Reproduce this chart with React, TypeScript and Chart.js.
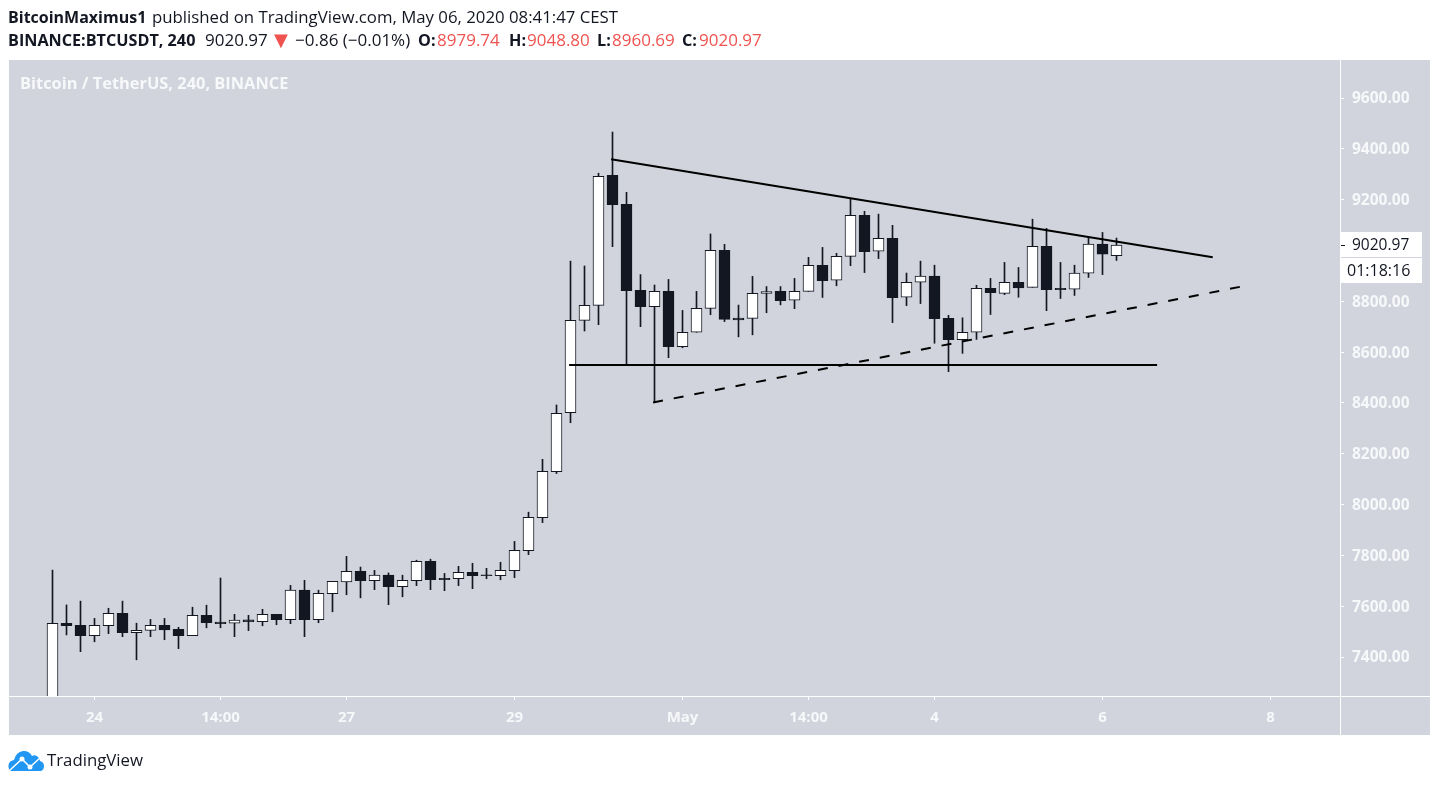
import React, { useEffect, useRef } from "react";
import { Chart, registerables } from "chart.js";

Chart.register(...registerables);

const opens = [7100, 7533, 7525, 7484, 7523, 7572, 7496, 7505, 7525, 7509, 7484, 7564, 7538, 7533, 7546, 7539, 7568, 7547, 7663, 7547, 7649, 7696, 7737, 7700, 7722, 7677, 7700, 7777, 7710, 7708, 7733, 7723, 7720, 7740, 7819, 7948, 8129, 8362, 8725, 8784, 9296, 9182, 8843, 8779, 8839, 8621, 8678, 8772, 9001, 8734, 8733, 8831, 8839, 8804, 8839, 8942, 8883, 8977, 9138, 8997, 9048, 8816, 8875, 8899, 8733, 8649, 8678, 8851, 8831, 8875, 8855, 9016, 8851, 8848, 8911, 9025, 8979.74];
const highs = [7742, 7605, 7620, 7552, 7592, 7620, 7533, 7548, 7552, 7517, 7596, 7604, 7711, 7568, 7564, 7588, 7568, 7682, 7702, 7663, 7698, 7796, 7754, 7741, 7731, 7722, 7781, 7785, 7729, 7757, 7769, 7749, 7773, 7855, 7970, 8178, 8392, 8958, 8939, 9304, 9466, 9229, 8905, 8864, 8886, 8764, 8839, 9065, 9024, 8785, 8898, 8858, 8858, 8890, 8973, 9012, 8989, 9203, 9154, 9143, 9099, 8911, 8958, 8942, 8745, 8735, 8863, 8890, 8953, 8933, 9123, 9087, 8953, 8942, 9052, 9071, 9048.8];
const lows = [7050, 7487, 7421, 7460, 7492, 7480, 7389, 7480, 7468, 7433, 7484, 7515, 7515, 7480, 7504, 7523, 7527, 7531, 7480, 7535, 7578, 7645, 7633, 7665, 7606, 7637, 7681, 7665, 7661, 7681, 7669, 7708, 7704, 7712, 7803, 7929, 8122, 8322, 8683, 8708, 9015, 8549, 8700, 8403, 8578, 8617, 8678, 8747, 8720, 8660, 8668, 8755, 8786, 8771, 8839, 8815, 8861, 8940, 8913, 8968, 8716, 8783, 8791, 8635, 8523, 8595, 8650, 8748, 8826, 8816, 8855, 8763, 8811, 8823, 8894, 8905, 8960.69];
const closes = [7533, 7523, 7484, 7525, 7572, 7496, 7505, 7525, 7507, 7484, 7564, 7535, 7531, 7545, 7539, 7568, 7547, 7663, 7547, 7651, 7698, 7737, 7700, 7722, 7677, 7702, 7777, 7704, 7704, 7733, 7720, 7720, 7741, 7820, 7950, 8131, 8359, 8725, 8784, 9292, 9180, 8842, 8779, 8839, 8621, 8678, 8772, 9001, 8729, 8727, 8831, 8838, 8802, 8839, 8942, 8881, 8977, 9138, 8995, 9048, 8814, 8875, 8899, 8732, 8649, 8678, 8851, 8834, 8875, 8853, 9016, 8846, 8846, 8911, 9025, 8985, 9020.97];

const priceTicks = [7400, 7600, 7800, 8000, 8200, 8400, 8600, 8800, 9000, 9200, 9400, 9600];
const timeTickIndex = [3, 12, 21, 33, 45, 54, 63, 75, 87];
const timeTickLabels = ["24", "14:00", "27", "29", "May", "14:00", "4", "6", "8"];

const upperTrendX = [39.9, 82.87];
const upperTrendY = [9359, 8973];
const supportX = [36.9, 78.9];
const supportY = [8549, 8549];
const risingTrendX = [42.9, 85.2];
const risingTrendY = [8402, 8861];

const lastPrice = 9020.97;
const countdown = "01:18:16";

const INK = "#131722";
const PANEL = "#d1d4dc";
const FONT = '"Open Sans", sans-serif';

const panelPlugin = {
  id: "panel",
  beforeDraw(chart: any) {
    const { ctx } = chart;
    ctx.save();
    ctx.fillStyle = PANEL;
    ctx.fillRect(9, 60, 1421, 675);
    ctx.restore();
  },
  afterDraw(chart: any) {
    const { ctx, chartArea, scales } = chart;
    ctx.save();
    ctx.fillStyle = "#ffffff";
    ctx.fillRect(chartArea.right, 60, 1, 675);
    ctx.fillRect(9, chartArea.bottom, 1421, 1);

    // last price + countdown tags on the axis
    const y = Math.round(scales.y.getPixelForValue(lastPrice));
    ctx.fillRect(chartArea.right + 1, y - 13, 81, 25);
    ctx.fillRect(chartArea.right + 1, y + 13, 81, 25);
    ctx.fillStyle = INK;
    ctx.fillRect(chartArea.right + 1, y, 4, 1);
    ctx.textBaseline = "middle";
    ctx.textAlign = "left";
    ctx.font = `15.5px ${FONT}`;
    ctx.fillText(lastPrice.toFixed(2), chartArea.right + 12, y + 1);
    ctx.font = `16px ${FONT}`;
    ctx.fillText(countdown, chartArea.right + 7, y + 26);
    ctx.restore();
  },
};

function Piece({ x, y, bold, color, size, family, children }: any) {
  return (
    <div
      style={{
        position: "absolute",
        left: x,
        top: y,
        fontFamily: family || FONT,
        fontSize: size || (bold ? 16.2 : 17),
        fontWeight: bold ? 700 : 400,
        color: color || INK,
        lineHeight: "20px",
        whiteSpace: "nowrap",
      }}
    >
      {children}
    </div>
  );
}

const RED = "#ef5350";

export default function App() {
  const chartRef = useRef<HTMLCanvasElement | null>(null);

  useEffect(() => {
    if (!chartRef.current) return;
    const indices = opens.map((_, i) => i);
    const colors = indices.map((i) => (closes[i] >= opens[i] ? "#ffffff" : INK));

    const chart = new Chart(chartRef.current, {
      type: "bar",
      plugins: [panelPlugin],
      data: {
        datasets: [
          {
            type: "line",
            data: upperTrendX.map((x, i) => ({ x, y: upperTrendY[i] })),
            borderColor: "#000000",
            borderWidth: 2,
            pointRadius: 0,
            order: 0,
          },
          {
            type: "line",
            data: supportX.map((x, i) => ({ x, y: supportY[i] })),
            borderColor: "#000000",
            borderWidth: 2,
            pointRadius: 0,
            order: 0,
          },
          {
            type: "line",
            data: risingTrendX.map((x, i) => ({ x, y: risingTrendY[i] })),
            borderColor: "#000000",
            borderWidth: 2,
            borderDash: [10, 11],
            pointRadius: 0,
            order: 0,
          },
          {
            type: "bar",
            data: indices.map((i) => ({ x: i, y: [opens[i], closes[i]] })),
            backgroundColor: colors,
            borderColor: INK,
            borderWidth: 1,
            borderSkipped: false,
            barThickness: 11,
            grouped: false,
            order: 1,
          },
          {
            type: "bar",
            data: indices.map((i) => ({ x: i, y: [lows[i], highs[i]] })),
            backgroundColor: INK,
            borderWidth: 0,
            barThickness: 1,
            grouped: false,
            order: 2,
          },
        ] as any,
      },
      options: {
        animation: false,
        responsive: false,
        devicePixelRatio: 1,
        layout: { padding: { left: 9, top: 60, right: 9, bottom: 50 } },
        plugins: {
          legend: { display: false },
          tooltip: { enabled: false },
        },
        scales: {
          x: {
            type: "linear",
            offset: false,
            min: -3.107,
            max: 91.964,
            afterBuildTicks: (axis: any) => {
              axis.ticks = timeTickIndex.map((value) => ({ value }));
            },
            afterFit: (axis: any) => {
              axis.height = 39;
            },
            grid: { offset: false, drawOnChartArea: false, color: "#ffffff", tickLength: 4 },
            border: { display: false },
            ticks: {
              autoSkip: false,
              maxRotation: 0,
              padding: 9,
              color: "#f7f8fa",
              font: { family: FONT, size: 15, weight: 700 },
              callback: (value: any) => timeTickLabels[timeTickIndex.indexOf(value)],
            },
          },
          y: {
            position: "right",
            min: 7246.6,
            max: 9749.6,
            afterBuildTicks: (axis: any) => {
              axis.ticks = priceTicks.map((value) => ({ value }));
            },
            afterFit: (axis: any) => {
              axis.width = 90;
            },
            grid: { drawOnChartArea: false, color: "#ffffff", tickLength: 4 },
            border: { display: false },
            ticks: {
              autoSkip: false,
              padding: 8,
              labelOffset: 1,
              color: "#f7f8fa",
              font: { family: FONT, size: 15.5, weight: 700 },
              callback: (value: any) => Number(value).toFixed(2),
            },
          },
        },
      } as any,
    });

    return () => {
      chart.destroy();
    };
  }, []);

  return (
    <div style={{ position: "fixed", left: 0, top: 0, width: 1439, height: 785, background: "#ffffff", overflow: "hidden" }}>
      <canvas ref={chartRef} width={1439} height={785} style={{ position: "absolute", left: 0, top: 0 }} />

      <Piece x={8} y={7} bold size={16}>BitcoinMaximus1</Piece>
      <Piece x={152} y={7} size={16.8}>published on TradingView.com, May 06, 2020 08:41:47 CEST</Piece>

      <Piece x={8} y={30} bold>BINANCE:BTCUSDT, 240</Piece>
      <Piece x={205} y={30}>{lastPrice.toFixed(2)}</Piece>
      <Piece x={274} y={30} color={RED} size={18} family='"DejaVu Sans", sans-serif'>▼</Piece>
      <Piece x={295} y={30}>−0.86 (−0.01%)</Piece>
      <Piece x={418} y={30} bold>O:</Piece>
      <Piece x={437} y={30} color={RED}>8979.74</Piece>
      <Piece x={509} y={30} bold>H:</Piece>
      <Piece x={527} y={30} color={RED}>9048.80</Piece>
      <Piece x={597} y={30} bold>L:</Piece>
      <Piece x={612} y={30} color={RED}>8960.69</Piece>
      <Piece x={682} y={30} bold>C:</Piece>
      <Piece x={699} y={30} color={RED}>9020.97</Piece>

      <Piece x={20} y={73} bold size={16.4} color="#f7f8fa">Bitcoin / TetherUS, 240, BINANCE</Piece>

      <svg width={37} height={22} viewBox="0 0 37 22" style={{ position: "absolute", left: 8, top: 750 }}>
        <path d="M3 21 Q0 19 0.5 15 Q1 11 6 10 Q8 2 15 1 Q21 0.5 24 6 Q28 4 31 8 Q32 10 32 11 Q36 12 36 16 Q36 20 33 21 Z" fill="#2196f3" />
        <path d="M2 20 L14 9 L22 17 L32 8" fill="none" stroke="#ffffff" strokeWidth="1.5" />
        <circle cx="14" cy="9" r="2.5" fill="#ffffff" />
        <circle cx="22" cy="17" r="2.5" fill="#ffffff" />
      </svg>
      <Piece x={47} y={750} size={16.8}>TradingView</Piece>
    </div>
  );
}
